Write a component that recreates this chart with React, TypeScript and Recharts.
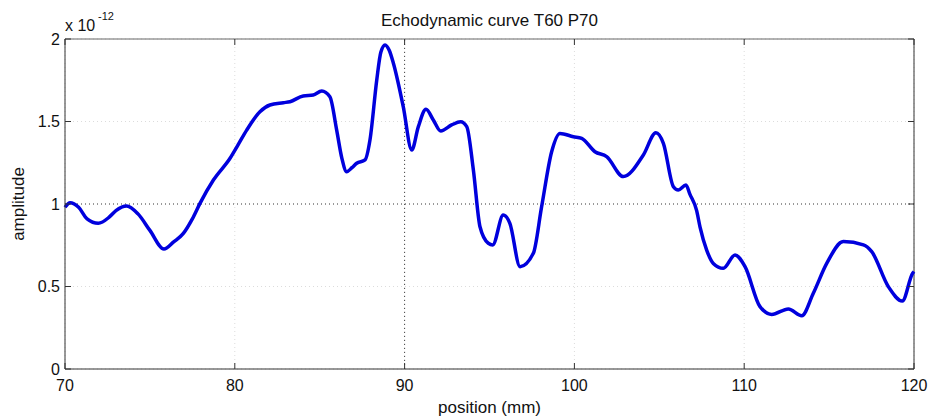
import React from 'react';
import { LineChart, Line, XAxis, YAxis, CartesianGrid, ReferenceLine } from 'recharts';

// position (mm)
const positions = [
  70.0, 70.3, 70.8, 71.3, 71.96, 72.6, 73.0, 73.63, 74.3, 75.0, 75.83, 76.4, 76.97, 77.5, 77.95,
  78.74, 79.72, 80.2, 80.7, 81.48, 82.07, 82.86, 83.25, 84.03, 84.62, 85.12, 85.6, 86.0, 86.3,
  86.59, 86.9, 87.18, 87.67, 87.96, 88.36, 88.6, 88.85, 89.1, 89.34, 89.92, 90.42, 90.81, 91.26,
  91.69, 92.13, 92.77, 93.3, 93.66, 94.05, 94.44, 94.93, 95.19, 95.81, 96.2, 96.8, 97.58, 98.07,
  98.66, 99.15, 99.94, 100.43, 101.21, 101.9, 102.88, 104.06, 104.8, 105.24, 105.83, 106.12,
  106.57, 106.8, 107.2, 107.4, 107.79, 108.18, 108.77, 109.46, 110.05, 110.93, 111.62, 112.6,
  113.39, 114.07, 114.86, 115.84, 117.02, 117.51, 118.49, 119.31, 119.92, 120.0,
];

// amplitude, in units of 1e-12
const amplitudes = [
  0.98, 1.008, 0.98, 0.91, 0.883, 0.92, 0.96, 0.988, 0.94, 0.84, 0.727, 0.77, 0.822, 0.91, 1.004,
  1.145, 1.277, 1.36, 1.448, 1.559, 1.6, 1.614, 1.62, 1.655, 1.66, 1.685, 1.65, 1.448, 1.28,
  1.196, 1.22, 1.247, 1.267, 1.388, 1.752, 1.92, 1.964, 1.93, 1.853, 1.59, 1.327, 1.469, 1.574,
  1.509, 1.442, 1.479, 1.499, 1.469, 1.206, 0.862, 0.762, 0.752, 0.933, 0.883, 0.62, 0.701, 0.984,
  1.317, 1.428, 1.408, 1.398, 1.317, 1.287, 1.166, 1.297, 1.432, 1.368, 1.105, 1.085,
  1.115, 1.06, 0.96, 0.86, 0.721, 0.64, 0.61, 0.691, 0.62, 0.378, 0.331, 0.364,
  0.323, 0.459, 0.64, 0.772, 0.752, 0.711, 0.499, 0.412, 0.58, 0.59,
];

const xTicks = [70, 80, 90, 100, 110, 120];
const yTicks = [0, 0.5, 1, 1.5, 2];

const data = positions.map((pos, i) => ({ pos, amp: amplitudes[i] }));

const W = 932;
const H = 419;
const PLOT_TOP = 39;
const PLOT_RIGHT = 914;
const FONT = '"Liberation Sans", Arial, Helvetica, sans-serif';
const AXIS = '#333';

const XTick = (props: any) => {
  const { x, y, payload } = props;
  const axisY = y - 8;
  return (
    <g>
      <line x1={x} x2={x} y1={axisY} y2={axisY - 6} stroke={AXIS} />
      <line x1={x} x2={x} y1={PLOT_TOP} y2={PLOT_TOP + 6} stroke={AXIS} />
      <text x={x} y={axisY + 22} textAnchor="middle" fontSize={16} fontFamily={FONT} fill="#111">
        {payload.value}
      </text>
    </g>
  );
};

const YTick = (props: any) => {
  const { x, y, payload } = props;
  const axisX = x + 5;
  return (
    <g>
      <line x1={axisX} x2={axisX + 6} y1={y} y2={y} stroke={AXIS} />
      <line x1={PLOT_RIGHT - 6} x2={PLOT_RIGHT} y1={y} y2={y} stroke={AXIS} />
      <text x={x} y={y} dy="0.36em" textAnchor="end" fontSize={16} fontFamily={FONT} fill="#111">
        {payload.value}
      </text>
    </g>
  );
};

export default function App() {
  return (
    <div style={{ position: 'absolute', left: 0, top: 0, width: W, height: H, background: '#fff' }}>
      <LineChart width={W} height={H} data={data} margin={{ top: PLOT_TOP, right: W - PLOT_RIGHT, bottom: 0, left: 0 }}>
        <CartesianGrid stroke="#dcdcdc" strokeDasharray="1 3" />
        <XAxis
          dataKey="pos"
          type="number"
          domain={[70, 120]}
          ticks={xTicks}
          interval={0}
          height={50}
          tickSize={0}
          tickMargin={8}
          tickLine={false}
          axisLine={{ stroke: AXIS }}
          tick={(p: any) => <XTick {...p} />}
        />
        <YAxis
          type="number"
          domain={[0, 2]}
          ticks={yTicks}
          interval={0}
          width={65}
          tickSize={0}
          tickMargin={5}
          tickLine={false}
          axisLine={{ stroke: AXIS }}
          tick={(p: any) => <YTick {...p} />}
        />
        <ReferenceLine x={90} stroke="#444" strokeDasharray="1 3" />
        <ReferenceLine y={1} stroke="#444" strokeDasharray="1 3" />
        <ReferenceLine y={2} stroke="#666" />
        <ReferenceLine x={120} stroke={AXIS} />
        <Line
          dataKey="amp"
          type="monotone"
          stroke="#0000dd"
          strokeWidth={3.5}
          dot={false}
          isAnimationActive={false}
        />
      </LineChart>
      <svg
        width={W}
        height={H}
        style={{ position: 'absolute', left: 0, top: 0, pointerEvents: 'none' }}
        fontFamily={FONT}
        fill="#111"
      >
        <text x={489.5} y={26} textAnchor="middle" fontSize={17}>
          Echodynamic curve T60 P70
        </text>
        <text x={65} y={31} fontSize={16}>
          x 10
        </text>
        <text x={98} y={20} fontSize={11}>
          -12
        </text>
        <text x={489.5} y={413} textAnchor="middle" fontSize={17}>
          position (mm)
        </text>
        <text x={24} y={204} textAnchor="middle" fontSize={17} transform="rotate(-90 24 204)">
          amplitude
        </text>
      </svg>
    </div>
  );
}
